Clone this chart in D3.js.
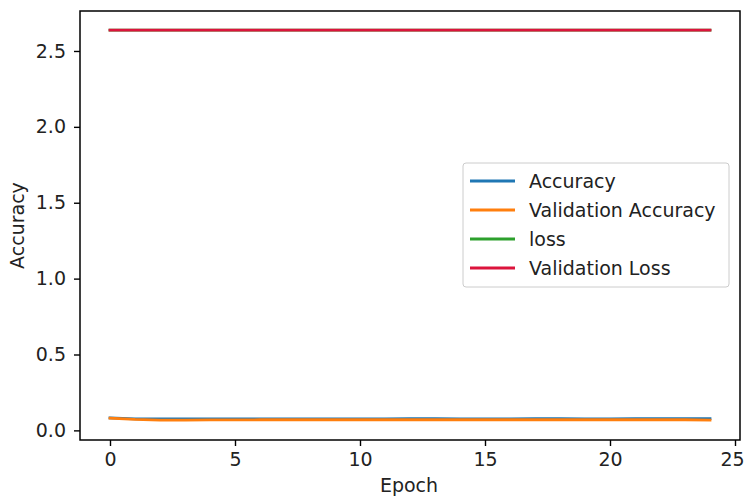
<!DOCTYPE html>
<html>
<head>
<meta charset="utf-8">
<script src="https://cdn.jsdelivr.net/npm/d3@7"></script>
<style>
  html, body { margin: 0; padding: 0; background: #fff; }
  text { font-family: "DejaVu Sans", sans-serif; }
</style>
</head>
<body>
<svg id="chart" width="746" height="498"></svg>
<script>
const epochs = d3.range(0, 25);
const accuracy = [0.082,0.076,0.075,0.075,0.076,0.075,0.076,0.076,0.076,0.076,0.076,0.076,0.077,0.077,0.076,0.076,0.076,0.077,0.077,0.076,0.076,0.077,0.077,0.077,0.077];
const valAccuracy = [0.080,0.072,0.068,0.068,0.069,0.069,0.070,0.070,0.070,0.070,0.070,0.070,0.070,0.070,0.070,0.070,0.070,0.070,0.070,0.070,0.070,0.070,0.070,0.070,0.068];
const loss = [2.637,2.637,2.637,2.637,2.637,2.637,2.637,2.637,2.637,2.637,2.637,2.637,2.637,2.637,2.637,2.637,2.637,2.637,2.637,2.637,2.637,2.637,2.637,2.637,2.637];
const valLoss = [2.637,2.637,2.637,2.637,2.637,2.637,2.637,2.637,2.637,2.637,2.637,2.637,2.637,2.637,2.637,2.637,2.637,2.637,2.637,2.637,2.637,2.637,2.637,2.637,2.637];
const seriesNames = ["Accuracy", "Validation Accuracy", "loss", "Validation Loss"];
const seriesColors = ["#1f77b4", "#ff7f0e", "#2ca02c", "#dc143c"];
const xTicks = [0, 5, 10, 15, 20, 25];
const yTicks = [0.0, 0.5, 1.0, 1.5, 2.0, 2.5];

const FS = 19;
const svg = d3.select("#chart");
const L = 80, R = 740, T = 11, B = 440;
const x = d3.scaleLinear().domain([-1.2, 25.2]).range([L, R]);
const y = d3.scaleLinear().domain([-0.0634, 2.7634]).range([B, T]);

const seriesData = [accuracy, valAccuracy, loss, valLoss];
const line = d3.line().x((d, i) => x(epochs[i])).y(d => y(d));

const g = svg.append("g");
seriesData.forEach((s, k) => {
  g.append("path").datum(s)
    .attr("d", line)
    .attr("fill", "none")
    .attr("stroke", seriesColors[k])
    .attr("stroke-width", 2.8)
    .attr("stroke-linecap", "square");
});

// Axes
const xAxis = d3.axisBottom(x).tickValues(xTicks).tickFormat(d3.format("d")).tickSize(6).tickPadding(7);
const yAxis = d3.axisLeft(y).tickValues(yTicks).tickFormat(d3.format(".1f")).tickSize(6).tickPadding(8);

const gx = svg.append("g").attr("transform", `translate(0,${B})`).call(xAxis);
const gy = svg.append("g").attr("transform", `translate(${L},0)`).call(yAxis);
[gx, gy].forEach(a => {
  a.select(".domain").remove();
  a.selectAll("line").attr("stroke", "#000").attr("stroke-width", 1.4);
  a.selectAll("text").attr("font-size", FS).attr("fill", "#222").attr("font-family", "DejaVu Sans, sans-serif");
});
// keep the last x tick label inside the window
gx.selectAll(".tick text").filter(d => d === 25).attr("dx", -3);

// Spines
svg.append("rect").attr("x", L).attr("y", T).attr("width", R - L).attr("height", B - T)
  .attr("fill", "none").attr("stroke", "#000").attr("stroke-width", 1.5);

// Axis labels
svg.append("text").attr("x", (L + R) / 2 - 1).attr("y", 492).attr("text-anchor", "middle")
  .attr("font-size", FS).attr("fill", "#222").text("Epoch");
svg.append("text").attr("transform", `translate(24,${(T + B) / 2}) rotate(-90)`)
  .attr("text-anchor", "middle").attr("font-size", FS).attr("fill", "#222").text("Accuracy");

// Legend
const lg = svg.append("g");
lg.append("rect").attr("x", 463).attr("y", 163).attr("width", 266).attr("height", 124)
  .attr("rx", 3).attr("fill", "#fff").attr("fill-opacity", 0.8)
  .attr("stroke", "#ccc").attr("stroke-width", 1);
seriesNames.forEach((n, i) => {
  const yy = 181 + i * 29;
  lg.append("line").attr("x1", 470).attr("x2", 515).attr("y1", yy).attr("y2", yy)
    .attr("stroke", seriesColors[i]).attr("stroke-width", 2.8);
  lg.append("text").attr("x", 529).attr("y", yy + 7).attr("font-size", FS).attr("fill", "#222").text(n);
});
</script>
</body>
</html>
